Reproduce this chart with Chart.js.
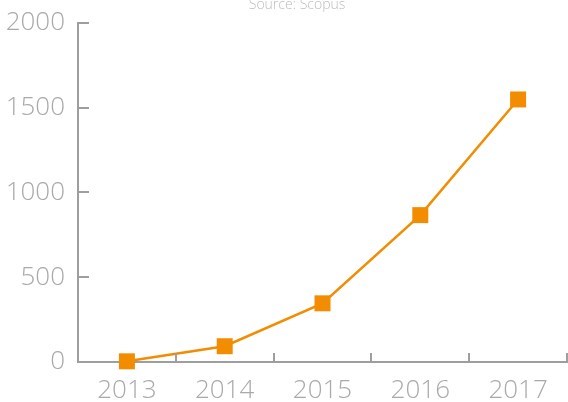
<!DOCTYPE html>
<html>
<head>
<meta charset="utf-8">
<script src="https://cdn.jsdelivr.net/npm/chart.js@4/dist/chart.umd.min.js"></script>
<style>
  html, body { margin: 0; padding: 0; background: #fff; }
  #wrap { position: relative; width: 568px; height: 402px; overflow: hidden; }
  #box { position: absolute; left: 0; top: -16px; width: 594px; height: 418px; }
</style>
</head>
<body>
<div id="wrap"><div id="box"><canvas id="GraficaCanvas"></canvas></div></div>
<script>
const years = ["2013", "2014", "2015", "2016", "2017"];
const publicaciones = [4, 93, 346, 866, 1548];
const yTicks = [0, 500, 1000, 1500, 2000];

const naranja = "rgb(242, 140, 0)";
const gris = "#9e9e9e";

// marcas de eje hacia dentro
const marcasInternas = {
  id: "marcasInternas",
  afterDatasetsDraw(chart) {
    const { ctx, scales: { x, y } } = chart;
    ctx.save();
    ctx.strokeStyle = gris;
    ctx.lineWidth = 2;
    ctx.beginPath();
    yTicks.forEach((v) => {
      const py = Math.round(y.getPixelForValue(v));
      ctx.moveTo(x.left, py);
      ctx.lineTo(x.left + 11, py);
    });
    for (let i = 0; i < years.length; i++) {
      const px = Math.round(x.getPixelForValue(i + 0.5));
      ctx.moveTo(px, y.bottom);
      ctx.lineTo(px, y.bottom - 9);
    }
    ctx.stroke();
    ctx.restore();
  },
};

const ctx = document.getElementById("GraficaCanvas").getContext("2d");
new Chart(ctx, {
  type: "line",
  data: {
    labels: years,
    datasets: [
      {
        label: "Publicaciones",
        data: publicaciones,
        borderColor: naranja,
        backgroundColor: naranja,
        borderWidth: 2.5,
        pointStyle: "rect",
        pointRadius: 11.3,
        pointBorderWidth: 0,
        pointHoverRadius: 11.3,
        tension: 0,
        clip: false,
      },
    ],
  },
  options: {
    responsive: true,
    maintainAspectRatio: false,
    animation: false,
    layout: { padding: 0 },
    scales: {
      x: {
        offset: true,
        grid: { display: false, drawTicks: false },
        border: { display: true, color: gris, width: 2 },
        ticks: {
          color: "#a9a9a9",
          padding: 13,
          font: { family: "'Open Sans'", size: 26, weight: 300 },
        },
        afterFit: (s) => { s.height = 40; },
      },
      y: {
        min: 0,
        max: 2000,
        afterBuildTicks: (s) => { s.ticks = yTicks.map((v) => ({ value: v })); },
        grid: { display: false, drawTicks: false },
        border: { display: true, color: gris, width: 2 },
        ticks: {
          color: "#a9a9a9",
          padding: 13,
          callback: (v) => String(v),
          font: { family: "'Open Sans'", size: 26, weight: 300 },
        },
        afterFit: (s) => { s.width = 78; },
      },
      // eje vacío a la derecha, solo reserva espacio
      margen: {
        type: "linear",
        position: "right",
        grid: { display: false, drawTicks: false },
        border: { display: false },
        ticks: { display: false },
        afterFit: (s) => { s.width = 27; },
      },
    },
    plugins: {
      legend: { display: false },
      tooltip: { enabled: false },
      title: {
        display: true,
        text: "Source: Scopus",
        color: "#bdbdbd",
        padding: { top: 13, bottom: 9 },
        font: { family: "'Open Sans'", size: 14, weight: 300 },
      },
    },
  },
  plugins: [marcasInternas],
});
</script>
</body>
</html>
